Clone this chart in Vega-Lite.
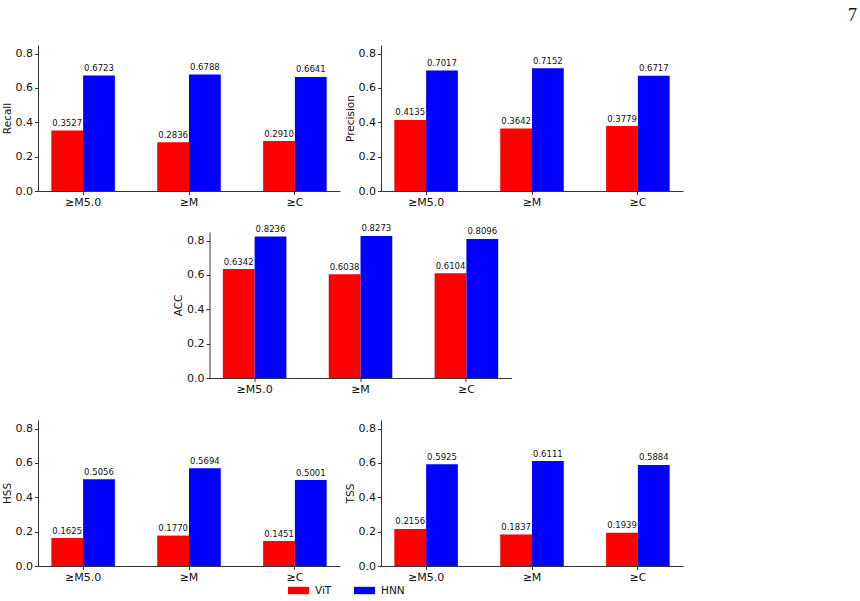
{
  "$schema": "https://vega.github.io/schema/vega-lite/v6.json",
  "padding": {"left": 2, "top": 7, "right": 0, "bottom": 0},
  "background": "white",
  "title": {"text": "7", "anchor": "end", "font": "Liberation Serif", "fontSize": 18, "fontWeight": "normal", "color": "#111", "dx": 174, "offset": 20},
  "data": {"values": [
    {"metric": "Recall", "threshold": "≥M5.0", "model": "ViT", "value": 0.3527},
    {"metric": "Recall", "threshold": "≥M5.0", "model": "HNN", "value": 0.6723},
    {"metric": "Recall", "threshold": "≥M", "model": "ViT", "value": 0.2836},
    {"metric": "Recall", "threshold": "≥M", "model": "HNN", "value": 0.6788},
    {"metric": "Recall", "threshold": "≥C", "model": "ViT", "value": 0.2910},
    {"metric": "Recall", "threshold": "≥C", "model": "HNN", "value": 0.6641},
    {"metric": "Precision", "threshold": "≥M5.0", "model": "ViT", "value": 0.4135},
    {"metric": "Precision", "threshold": "≥M5.0", "model": "HNN", "value": 0.7017},
    {"metric": "Precision", "threshold": "≥M", "model": "ViT", "value": 0.3642},
    {"metric": "Precision", "threshold": "≥M", "model": "HNN", "value": 0.7152},
    {"metric": "Precision", "threshold": "≥C", "model": "ViT", "value": 0.3779},
    {"metric": "Precision", "threshold": "≥C", "model": "HNN", "value": 0.6717},
    {"metric": "ACC", "threshold": "≥M5.0", "model": "ViT", "value": 0.6342},
    {"metric": "ACC", "threshold": "≥M5.0", "model": "HNN", "value": 0.8236},
    {"metric": "ACC", "threshold": "≥M", "model": "ViT", "value": 0.6038},
    {"metric": "ACC", "threshold": "≥M", "model": "HNN", "value": 0.8273},
    {"metric": "ACC", "threshold": "≥C", "model": "ViT", "value": 0.6104},
    {"metric": "ACC", "threshold": "≥C", "model": "HNN", "value": 0.8096},
    {"metric": "HSS", "threshold": "≥M5.0", "model": "ViT", "value": 0.1625},
    {"metric": "HSS", "threshold": "≥M5.0", "model": "HNN", "value": 0.5056},
    {"metric": "HSS", "threshold": "≥M", "model": "ViT", "value": 0.1770},
    {"metric": "HSS", "threshold": "≥M", "model": "HNN", "value": 0.5694},
    {"metric": "HSS", "threshold": "≥C", "model": "ViT", "value": 0.1451},
    {"metric": "HSS", "threshold": "≥C", "model": "HNN", "value": 0.5001},
    {"metric": "TSS", "threshold": "≥M5.0", "model": "ViT", "value": 0.2156},
    {"metric": "TSS", "threshold": "≥M5.0", "model": "HNN", "value": 0.5925},
    {"metric": "TSS", "threshold": "≥M", "model": "ViT", "value": 0.1837},
    {"metric": "TSS", "threshold": "≥M", "model": "HNN", "value": 0.6111},
    {"metric": "TSS", "threshold": "≥C", "model": "ViT", "value": 0.1939},
    {"metric": "TSS", "threshold": "≥C", "model": "HNN", "value": 0.5884}
  ]},
  "center": true,
  "spacing": 16,
  "vconcat": [
    {
      "bounds": "flush",
      "spacing": 41,
      "hconcat": [
        {
          "width": 302, "height": 146,
          "transform": [{"filter": "datum.metric === 'Recall'"}],
          "encoding": {
            "x": {"field": "threshold", "type": "nominal", "sort": ["≥M5.0", "≥M", "≥C"], "scale": {"paddingInner": 0.4, "paddingOuter": 0.126}, "axis": {"title": null, "labelAngle": 0}},
            "xOffset": {"field": "model", "type": "nominal", "sort": ["ViT", "HNN"], "scale": {"paddingInner": 0, "paddingOuter": 0}},
            "y": {"field": "value", "type": "quantitative", "scale": {"domain": [0, 0.85], "nice": false}, "axis": {"title": "Recall", "values": [0, 0.2, 0.4, 0.6, 0.8], "format": ".1f"}}
          },
          "layer": [
            {"mark": {"type": "bar"}, "encoding": {"color": {"field": "model", "type": "nominal", "scale": {"domain": ["ViT", "HNN"], "range": ["#ff0000", "#0000ff"]}, "legend": {"orient": "none", "legendX": 250, "legendY": 535, "direction": "horizontal", "title": null, "symbolType": "M-1,-0.35H1V0.35H-1Z", "symbolSize": 441, "symbolStrokeWidth": 0, "labelFontSize": 10.5, "labelFont": "DejaVu Sans", "labelColor": "#111", "columnPadding": 22, "labelOffset": 6}}}},
            {"mark": {"type": "text", "baseline": "bottom", "dy": -2.5, "fontSize": 8.5, "font": "DejaVu Sans", "color": "#111"}, "encoding": {"text": {"field": "value", "type": "quantitative", "format": ".4f"}}}
          ]
        },
        {
          "width": 302, "height": 146,
          "transform": [{"filter": "datum.metric === 'Precision'"}],
          "encoding": {
            "x": {"field": "threshold", "type": "nominal", "sort": ["≥M5.0", "≥M", "≥C"], "scale": {"paddingInner": 0.4, "paddingOuter": 0.126}, "axis": {"title": null, "labelAngle": 0}},
            "xOffset": {"field": "model", "type": "nominal", "sort": ["ViT", "HNN"], "scale": {"paddingInner": 0, "paddingOuter": 0}},
            "y": {"field": "value", "type": "quantitative", "scale": {"domain": [0, 0.85], "nice": false}, "axis": {"title": "Precision", "values": [0, 0.2, 0.4, 0.6, 0.8], "format": ".1f"}}
          },
          "layer": [
            {"mark": {"type": "bar"}, "encoding": {"color": {"field": "model", "type": "nominal", "scale": {"domain": ["ViT", "HNN"], "range": ["#ff0000", "#0000ff"]}, "legend": {"orient": "none", "legendX": 250, "legendY": 535, "direction": "horizontal", "title": null, "symbolType": "M-1,-0.35H1V0.35H-1Z", "symbolSize": 441, "symbolStrokeWidth": 0, "labelFontSize": 10.5, "labelFont": "DejaVu Sans", "labelColor": "#111", "columnPadding": 22, "labelOffset": 6}}}},
            {"mark": {"type": "text", "baseline": "bottom", "dy": -2.5, "fontSize": 8.5, "font": "DejaVu Sans", "color": "#111"}, "encoding": {"text": {"field": "value", "type": "quantitative", "format": ".4f"}}}
          ]
        }
      ]
    },
    {
      "center": true,
      "spacing": 25,
      "vconcat": [
        {
          "width": 302, "height": 146,
          "transform": [{"filter": "datum.metric === 'ACC'"}],
          "encoding": {
            "x": {"field": "threshold", "type": "nominal", "sort": ["≥M5.0", "≥M", "≥C"], "scale": {"paddingInner": 0.4, "paddingOuter": 0.126}, "axis": {"title": null, "labelAngle": 0}},
            "xOffset": {"field": "model", "type": "nominal", "sort": ["ViT", "HNN"], "scale": {"paddingInner": 0, "paddingOuter": 0}},
            "y": {"field": "value", "type": "quantitative", "scale": {"domain": [0, 0.85], "nice": false}, "axis": {"title": "ACC", "values": [0, 0.2, 0.4, 0.6, 0.8], "format": ".1f"}}
          },
          "layer": [
            {"mark": {"type": "bar"}, "encoding": {"color": {"field": "model", "type": "nominal", "scale": {"domain": ["ViT", "HNN"], "range": ["#ff0000", "#0000ff"]}, "legend": {"orient": "none", "legendX": 250, "legendY": 535, "direction": "horizontal", "title": null, "symbolType": "M-1,-0.35H1V0.35H-1Z", "symbolSize": 441, "symbolStrokeWidth": 0, "labelFontSize": 10.5, "labelFont": "DejaVu Sans", "labelColor": "#111", "columnPadding": 22, "labelOffset": 6}}}},
            {"mark": {"type": "text", "baseline": "bottom", "dy": -2.5, "fontSize": 8.5, "font": "DejaVu Sans", "color": "#111"}, "encoding": {"text": {"field": "value", "type": "quantitative", "format": ".4f"}}}
          ]
        },
        {
          "bounds": "flush",
          "spacing": 41,
          "hconcat": [
            {
              "width": 302, "height": 146,
              "transform": [{"filter": "datum.metric === 'HSS'"}],
              "encoding": {
                "x": {"field": "threshold", "type": "nominal", "sort": ["≥M5.0", "≥M", "≥C"], "scale": {"paddingInner": 0.4, "paddingOuter": 0.126}, "axis": {"title": null, "labelAngle": 0}},
                "xOffset": {"field": "model", "type": "nominal", "sort": ["ViT", "HNN"], "scale": {"paddingInner": 0, "paddingOuter": 0}},
                "y": {"field": "value", "type": "quantitative", "scale": {"domain": [0, 0.85], "nice": false}, "axis": {"title": "HSS", "values": [0, 0.2, 0.4, 0.6, 0.8], "format": ".1f"}}
              },
              "layer": [
                {"mark": {"type": "bar"}, "encoding": {"color": {"field": "model", "type": "nominal", "scale": {"domain": ["ViT", "HNN"], "range": ["#ff0000", "#0000ff"]}, "legend": {"orient": "none", "legendX": 250, "legendY": 535, "direction": "horizontal", "title": null, "symbolType": "M-1,-0.35H1V0.35H-1Z", "symbolSize": 441, "symbolStrokeWidth": 0, "labelFontSize": 10.5, "labelFont": "DejaVu Sans", "labelColor": "#111", "columnPadding": 22, "labelOffset": 6}}}},
                {"mark": {"type": "text", "baseline": "bottom", "dy": -2.5, "fontSize": 8.5, "font": "DejaVu Sans", "color": "#111"}, "encoding": {"text": {"field": "value", "type": "quantitative", "format": ".4f"}}}
              ]
            },
            {
              "width": 302, "height": 146,
              "transform": [{"filter": "datum.metric === 'TSS'"}],
              "encoding": {
                "x": {"field": "threshold", "type": "nominal", "sort": ["≥M5.0", "≥M", "≥C"], "scale": {"paddingInner": 0.4, "paddingOuter": 0.126}, "axis": {"title": null, "labelAngle": 0}},
                "xOffset": {"field": "model", "type": "nominal", "sort": ["ViT", "HNN"], "scale": {"paddingInner": 0, "paddingOuter": 0}},
                "y": {"field": "value", "type": "quantitative", "scale": {"domain": [0, 0.85], "nice": false}, "axis": {"title": "TSS", "values": [0, 0.2, 0.4, 0.6, 0.8], "format": ".1f"}}
              },
              "layer": [
                {"mark": {"type": "bar"}, "encoding": {"color": {"field": "model", "type": "nominal", "scale": {"domain": ["ViT", "HNN"], "range": ["#ff0000", "#0000ff"]}, "legend": {"orient": "none", "legendX": 250, "legendY": 535, "direction": "horizontal", "title": null, "symbolType": "M-1,-0.35H1V0.35H-1Z", "symbolSize": 441, "symbolStrokeWidth": 0, "labelFontSize": 10.5, "labelFont": "DejaVu Sans", "labelColor": "#111", "columnPadding": 22, "labelOffset": 6}}}},
                {"mark": {"type": "text", "baseline": "bottom", "dy": -2.5, "fontSize": 8.5, "font": "DejaVu Sans", "color": "#111"}, "encoding": {"text": {"field": "value", "type": "quantitative", "format": ".4f"}}}
              ]
            }
          ]
        }
      ]
    }
  ],
  "config": {
    "view": {"stroke": null},
    "axis": {"grid": false, "domainColor": "#000", "domainWidth": 0.8, "tickColor": "#000", "tickWidth": 0.8, "tickSize": 3.5, "labelPadding": 2, "labelFont": "DejaVu Sans", "labelFontSize": 11, "labelColor": "#111", "titleFont": "DejaVu Sans", "titleFontSize": 10.5, "titleFontWeight": "normal", "titleColor": "#111", "titlePadding": 3}
  }
}
